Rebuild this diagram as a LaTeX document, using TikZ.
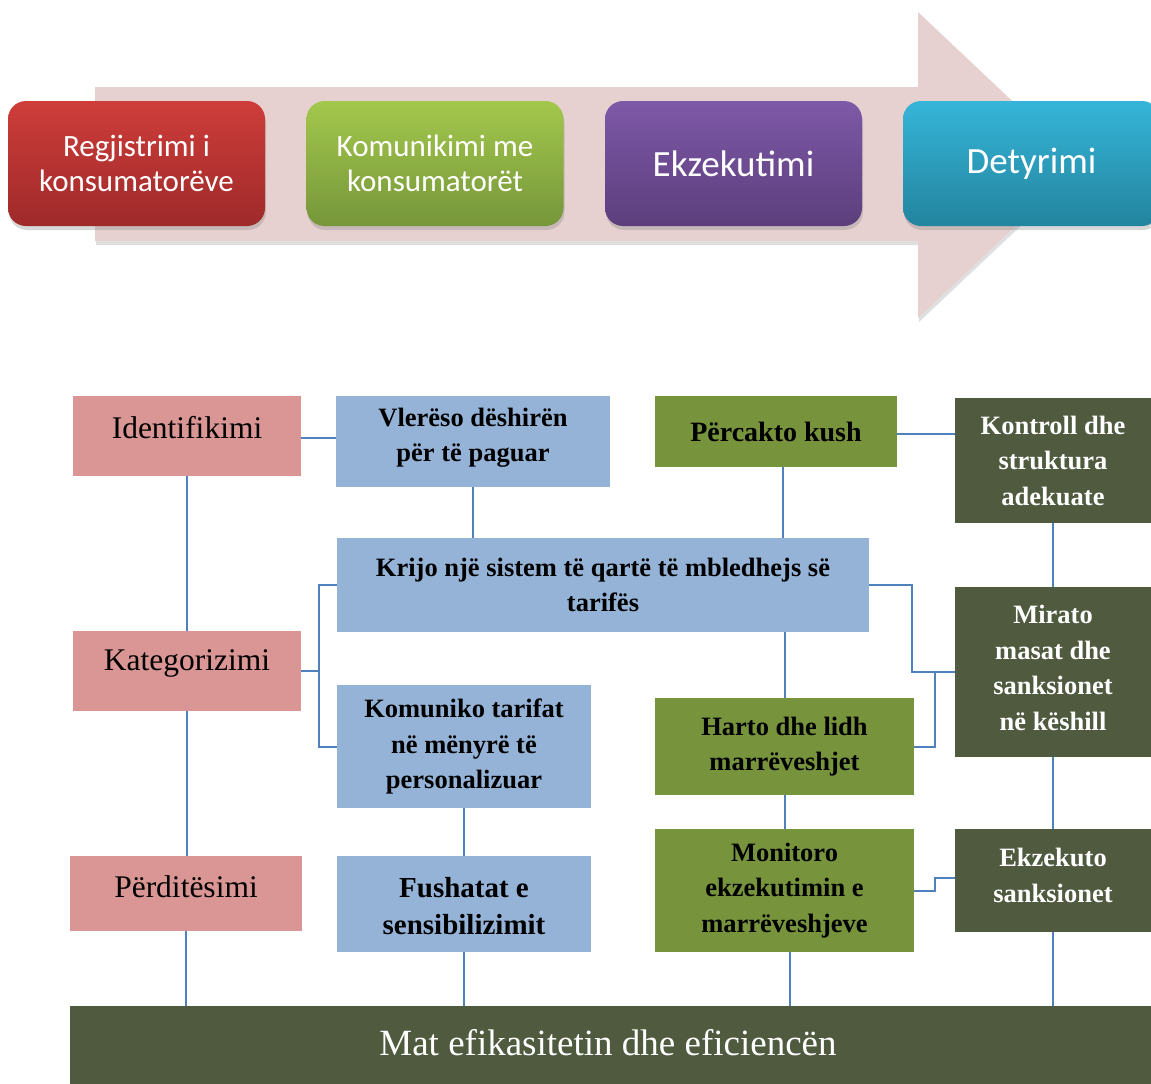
\documentclass[tikz,border=0pt]{standalone}
\usepackage{fontspec}
\setmainfont{Liberation Serif}
\newfontfamily\calfont{Carlito}
\usetikzlibrary{shadows,calc}
\definecolor{pinkbox}{HTML}{D99694}
\definecolor{bluebox}{HTML}{95B3D7}
\definecolor{greenbox}{HTML}{77933C}
\definecolor{darkbox}{HTML}{4F5A3F}
\definecolor{connblue}{HTML}{4F81BD}
\definecolor{arrowpink}{HTML}{E7D0D0}
\definecolor{redtop}{HTML}{CE3D3A}
\definecolor{redbot}{HTML}{9E2A2A}
\definecolor{greentop}{HTML}{A3C84C}
\definecolor{greenbot}{HTML}{76963A}
\definecolor{purptop}{HTML}{7E59A8}
\definecolor{purpbot}{HTML}{5C3E7C}
\definecolor{cyantop}{HTML}{36B5D8}
\definecolor{cyanbot}{HTML}{23849E}
\tikzset{
  base/.style={rectangle, inner sep=0pt, align=center},
  pinkb/.style={base, fill=pinkbox},
  pinkt/.style={base, font=\fontsize{31.5}{36}\selectfont},
  blueb/.style={base, fill=bluebox, font=\fontsize{26.5}{35.5}\selectfont\bfseries},
  greenb/.style={base, fill=greenbox, font=\fontsize{26.5}{35.5}\selectfont\bfseries},
  darkb/.style={base, fill=darkbox, text=white, font=\fontsize{26.5}{35.5}\selectfont\bfseries},
  boldt/.style={base, font=\fontsize{26.5}{35.5}\selectfont\bfseries},
  conn/.style={draw=connblue, line width=2pt},
  chev/.style={base, rounded corners=18pt, text=white, minimum width=257pt, minimum height=125pt,
    drop shadow={shadow xshift=1pt, shadow yshift=-4pt, opacity=0.3}},
  twol/.style={font=\calfont\fontsize{31}{35}\selectfont},
  onel/.style={font=\calfont\fontsize{37}{42}\selectfont}
}
\begin{document}
\begin{tikzpicture}[x=1pt,y=-1pt]
\clip (0,0) rectangle (1151,1084);
\fill[white] (0,0) rectangle (1151,1084);
% big arrow
\path[fill=arrowpink, drop shadow={shadow xshift=1pt, shadow yshift=-4pt, opacity=0.25}]
  (95,87) -- (918,87) -- (918,12) -- (1080,165) -- (918,318) -- (918,241) -- (95,241) -- cycle;
% chevron boxes
\node[chev, twol, top color=redtop, bottom color=redbot] (reg) at (136.5,163.5) {Regjistrimi i\\konsumatorëve};
\node[chev, twol, top color=greentop, bottom color=greenbot] (kom) at (435,163.5) {Komunikimi me\\konsumatorët};
\node[chev, onel, top color=purptop, bottom color=purpbot] (ekzt) at (733.5,163.5) {Ekzekutimi};
\node[chev, onel, top color=cyantop, bottom color=cyanbot] (det) at (1031.5,163.5) {\raisebox{-3pt}{Detyrimi}};

% bottom section boxes
\node[pinkb, minimum width=228pt, minimum height=80pt] (ident) at (187,436) {};
\node[pinkt] (identt) at ([yshift=8pt]ident.center) {Identifikimi};
\node[blueb, minimum width=274pt, minimum height=91pt] (vle) at (473,441.5) {};
\node[boldt] (vlet) at ([yshift=4pt]vle.center) {Vlerëso dëshirën\\për të paguar};
\node[greenb, minimum width=242pt, minimum height=71pt, font=\fontsize{28}{35}\selectfont\bfseries] (perc) at (776,431.5) {Përcakto kush};
\node[darkb, minimum width=196pt, minimum height=125pt] (kontr) at (1053,460.5) {Kontroll dhe\\struktura\\adekuate};
\node[blueb, minimum width=532pt, minimum height=94pt] (krijo) at (603,585) {Krijo një sistem të qartë të mbledhejs së\\tarifës};
\node[pinkb, minimum width=228pt, minimum height=80pt] (kateg) at (187,671) {};
\node[pinkt] (kategt) at ([yshift=8pt]kateg.center) {Kategorizimi};
\node[darkb, minimum width=196pt, minimum height=170pt] (mir) at (1053,672) {};
\node[boldt, text=white] (mirt) at ([yshift=4pt]mir.center) {Mirato\\masat dhe\\sanksionet\\në këshill};
\node[blueb, minimum width=254pt, minimum height=123pt] (komun) at (464,746.5) {Komuniko tarifat\\në mënyrë të\\personalizuar};
\node[greenb, minimum width=259pt, minimum height=97pt] (harto) at (784.5,746.5) {Harto dhe lidh\\marrëveshjet};
\node[pinkb, minimum width=232pt, minimum height=75pt] (perd) at (186,893.5) {};
\node[pinkt] (perdt) at ([yshift=7pt]perd.center) {Përditësimi};
\node[blueb, minimum width=254pt, minimum height=96pt] (fush) at (464,904) {};
\node[boldt, font=\fontsize{29}{37}\selectfont\bfseries] (fusht) at ([yshift=-2pt]fush.center) {Fushatat e\\sensibilizimit};
\node[greenb, minimum width=259pt, minimum height=123pt] (mon) at (784.5,890.5) {Monitoro\\ekzekutimin e\\marrëveshjeve};
\node[darkb, minimum width=196pt, minimum height=103pt] (ekz) at (1053,880.5) {};
\node[boldt, text=white] (ekzt2) at ([yshift=5pt]ekz.center) {Ekzekuto\\sanksionet};
\node[base, fill=darkbox, minimum width=1090pt, minimum height=78pt] (mat) at (615,1045) {};
\node[base, text=white, font=\fontsize{37}{42}\selectfont] (matt) at (608,1043) {Mat efikasitetin dhe eficiencën};

% connectors
\draw[conn] (ident.east |- 0,438) -- (vle.west |- 0,438);
\draw[conn] (ident.south) -- (kateg.north);
\draw[conn] (kateg.south) -- (kateg.south |- perd.north);
\draw[conn] (perd.south) -- (perd.south |- mat.north);
\draw[conn] (vle.south) -- (vle.south |- krijo.north);
\draw[conn] ([xshift=7pt]perc.south) -- ([xshift=7pt]perc.south |- krijo.north);
\draw[conn] (perc.east |- 0,434) -- (kontr.west |- 0,434);
\draw[conn] (kontr.south) -- (mir.north);
\draw[conn] (mir.south) -- (ekz.north);
\draw[conn] (ekz.south) -- (ekz.south |- mat.north);
\coordinate (lbus) at (319,671);
\draw[conn] (krijo.west) -| (lbus) |- (komun.west);
\draw[conn] (kateg.east) -- (lbus);
\coordinate (rb) at (912,672);
\draw[conn] (krijo.east) -| (rb) -- (mir.west);
\coordinate (rb2) at (935,672);
\draw[conn] (harto.east) -| (rb2);
\draw[conn] (harto.north) -- (harto.north |- krijo.south);
\draw[conn] (harto.south) -- (mon.north);
\draw[conn] (komun.south) -- (fush.north);
\draw[conn] (fush.south) -- (fush.south |- mat.north);
\draw[conn] ([xshift=5pt]mon.south) -- ([xshift=5pt]mon.south |- mat.north);
\draw[conn] (mon.east) -- ++(21,0) |- ([yshift=2.5pt]ekz.west);
\end{tikzpicture}
\end{document}
